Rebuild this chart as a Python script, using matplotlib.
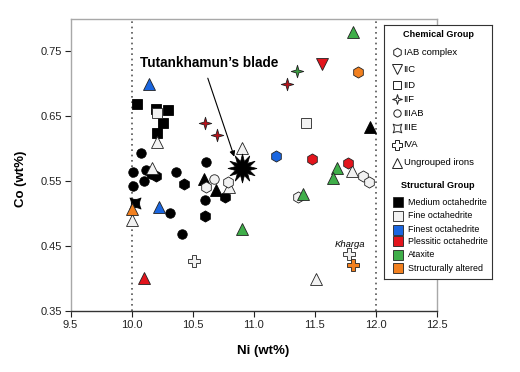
import matplotlib
matplotlib.use("Agg")
import matplotlib.pyplot as plt
from matplotlib.path import Path

plt.rcParams['font.family'] = ['Liberation Sans', 'DejaVu Sans']

# marker shapes for the chemical groups
star4 = Path([(0, 1), (0.22, 0.22), (1, 0), (0.22, -0.22), (0, -1), (-0.22, -0.22),
              (-1, 0), (-0.22, 0.22), (0, 1)], closed=True)
iiie = Path([(-1, -1), (0, -0.45), (1, -1), (0.45, 0), (1, 1), (0, 0.45), (-1, 1),
             (-0.45, 0), (-1, -1), (-1, -1)],
            [Path.MOVETO, Path.CURVE3, Path.CURVE3, Path.CURVE3, Path.CURVE3,
             Path.CURVE3, Path.CURVE3, Path.CURVE3, Path.CURVE3, Path.CLOSEPOLY])

chem_groups = ['IAB complex', 'IIC', 'IID', 'IIF', 'IIIAB', 'IIIE', 'IVA', 'Ungrouped irons']
chem_markers = {'IAB complex': ('h', 8.0), 'IIC': ('v', 8.5), 'IID': ('s', 6.8),
                'IIF': (star4, 9.0), 'IIIAB': ('o', 6.8), 'IIIE': (iiie, 8.0),
                'IVA': ('P', 8.5), 'Ungrouped irons': ('^', 8.5)}

struct_groups = ['Medium octahedrite', 'Fine octahedrite', 'Finest octahedrite',
                 'Plessitic octahedrite', 'Ataxite', 'Structurally altered']
struct_colors = {'Medium octahedrite': '#000000', 'Fine octahedrite': '#f2f2f2',
                 'Finest octahedrite': '#1a66e0', 'Plessitic octahedrite': '#e3141c',
                 'Ataxite': '#3fae49', 'Structurally altered': '#f2801f'}

# meteorite data: Ni (wt%), Co (wt%), chemical group, structural group
ni = [10.20, 10.04, 10.30, 10.26, 10.21,
      10.08, 10.01, 10.12, 10.16, 10.10, 10.01, 10.36, 10.61, 10.60, 10.31, 10.41,
      10.20, 10.43, 10.76, 10.60,
      10.59, 10.69, 11.95, 10.03,
      10.21, 11.43,
      10.21, 10.17, 10.80, 10.90, 10.00, 11.80, 11.51,
      10.61, 10.79, 11.36, 11.89, 11.94, 10.67, 10.51, 11.78,
      10.14, 10.22, 11.18,
      10.60, 10.70, 11.27, 11.56, 11.48, 11.77, 10.10,
      11.81, 10.90, 11.68, 11.65, 11.40, 11.35,
      10.00, 11.85, 11.81]
co = [0.661, 0.669, 0.660, 0.640, 0.624,
      0.594, 0.564, 0.567, 0.562, 0.550, 0.543, 0.565, 0.580, 0.521, 0.502, 0.469,
      0.558, 0.546, 0.526, 0.496,
      0.553, 0.537, 0.634, 0.517,
      0.655, 0.640,
      0.611, 0.570, 0.541, 0.601, 0.490, 0.566, 0.400,
      0.542, 0.549, 0.526, 0.559, 0.549, 0.553, 0.428, 0.438,
      0.700, 0.511, 0.589,
      0.640, 0.621, 0.700, 0.730, 0.584, 0.579, 0.401,
      0.780, 0.476, 0.571, 0.555, 0.530, 0.720,
      0.507, 0.719, 0.422]
chem = ['IID'] * 5 + ['IIIAB'] * 11 + ['IAB complex'] * 4 + ['Ungrouped irons'] * 3 + ['IIIE'] + \
       ['IID'] * 2 + ['Ungrouped irons'] * 7 + ['IAB complex'] * 5 + ['IIIAB'] + ['IVA'] * 2 + \
       ['Ungrouped irons'] * 2 + ['IAB complex'] + \
       ['IIF'] * 3 + ['IIC'] + ['IAB complex'] * 2 + ['Ungrouped irons'] + \
       ['Ungrouped irons'] * 5 + ['IIF'] + \
       ['Ungrouped irons', 'IAB complex', 'IVA']
struct = ['Medium octahedrite'] * 24 + ['Fine octahedrite'] * 17 + ['Finest octahedrite'] * 3 + \
         ['Plessitic octahedrite'] * 7 + ['Ataxite'] * 6 + ['Structurally altered'] * 3

blade_ni, blade_co = 10.90, 0.570

fig = plt.figure(figsize=(5.2, 3.72), dpi=100)
ax = fig.add_axes([0.1358, 0.163, 0.7046, 0.786])

ax.axvline(10.0, color='#555555', ls=(0, (1, 2.2)), lw=1.2, zorder=1)
ax.axvline(12.0, color='#555555', ls=(0, (1, 2.2)), lw=1.2, zorder=1)

for x, y, c, s in zip(ni, co, chem, struct):
    m, ms = chem_markers[c]
    fc = struct_colors[s]
    if c == 'IIF':
        fc = '#b8121b' if s == 'Plessitic octahedrite' else '#3a9a40'
    ec = '#222222' if s != 'Medium octahedrite' else 'black'
    ax.plot(x, y, marker=m, ms=ms, mfc=fc, mec=ec, mew=0.6, ls='none', zorder=3)

ax.plot(blade_ni, blade_co, marker=(12, 1, 0), ms=21, mfc='black', mec='black', mew=0.5,
        ls='none', zorder=4)
ax.annotate("Tutankhamun\u2019s blade", xy=(10.84, 0.588), xytext=(10.635, 0.732),
            ha='center', va='center', fontsize=9.8, fontweight='bold',
            arrowprops=dict(arrowstyle='-|>', color='black', lw=0.8,
                            mutation_scale=8, shrinkA=4, shrinkB=0,
                            relpos=(0.47, 0.0)))
ax.text(11.79, 0.4535, 'Kharga', fontsize=6.8, style='italic', ha='center', va='center')

ax.set_xlim(9.5, 12.5)
ax.set_ylim(0.35, 0.80)
ax.set_xticks([9.5, 10.0, 10.5, 11.0, 11.5, 12.0, 12.5])
ax.set_yticks([0.35, 0.45, 0.55, 0.65, 0.75])
ax.set_xticklabels(['9.5', '10.0', '10.5', '11.0', '11.5', '12.0', '12.5'])
ax.set_yticklabels(['0.35', '0.45', '0.55', '0.65', '0.75'])
ax.tick_params(direction='out', length=4, width=0.8, labelsize=8, colors='#222222', pad=2)
for side in ['left', 'top', 'right']:
    ax.spines[side].set_color('#a8a8a8')
    ax.spines[side].set_linewidth(1.0)
ax.spines['bottom'].set_color('#333333')
ax.spines['bottom'].set_linewidth(1.0)

ax.set_xlabel('Ni (wt%)', fontsize=9.5, fontweight='bold')
ax.set_ylabel('Co (wt%)', fontsize=9.5, fontweight='bold')
ax.xaxis.set_label_coords(0.525, -0.115)
ax.yaxis.set_label_coords(-0.118, 0.455)

# legend box drawn by hand
lg = fig.add_axes([0.7385, 0.25, 0.2077, 0.683])
lg.set_xlim(384, 492)
lg.set_ylim(279, 25)
lg.set_xticks([])
lg.set_yticks([])
lg.set_facecolor('white')
for sp in lg.spines.values():
    sp.set_color('#333333')
    sp.set_linewidth(0.8)

lg.text(438, 34.5, 'Chemical Group', ha='center', va='center', fontsize=6.6, fontweight='bold')
chem_y = [52.5, 69.5, 85.5, 99.5, 113.5, 128, 145, 163]
for name, yy in zip(chem_groups, chem_y):
    m, ms = chem_markers[name]
    lg.plot(396.8, yy, marker=m, ms=ms * 0.78, mfc='white', mec='#222222', mew=0.7, ls='none')
    lg.text(403.5, yy, name, ha='left', va='center', fontsize=6.8)

lg.text(438, 186, 'Structural Group', ha='center', va='center', fontsize=6.6, fontweight='bold')
struct_y = [202.3, 216, 230, 241.5, 255, 268.5]
for name, yy in zip(struct_groups, struct_y):
    lg.plot(397.5, yy, marker='s', ms=7.2, mfc=struct_colors[name], mec='#222222', mew=0.6,
            ls='none')
    lg.text(407.5, yy, name, ha='left', va='center', fontsize=6.4)

fig.savefig('out.png', dpi=100)
